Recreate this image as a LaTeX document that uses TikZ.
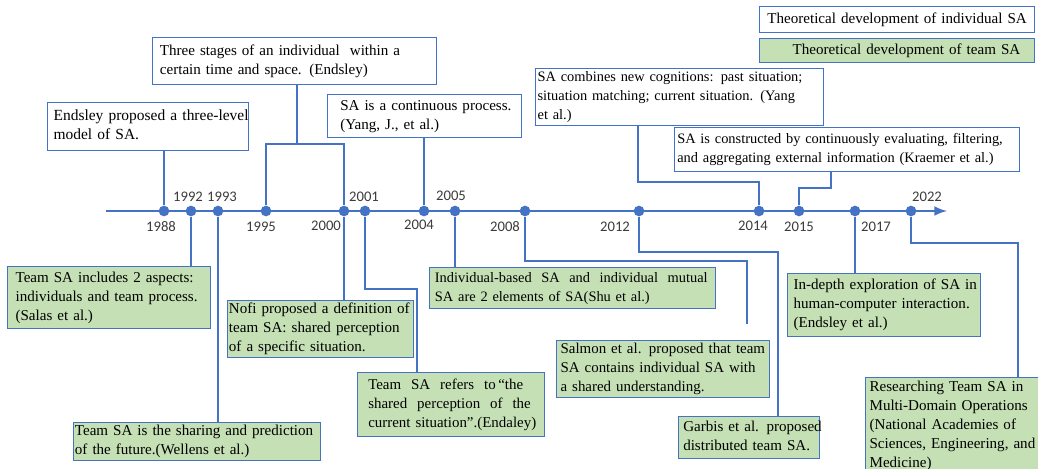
\documentclass[tikz,border=0pt]{standalone}
\usepackage{fontspec}
\setmainfont{Liberation Serif}
\newfontfamily\boxfont{Liberation Serif}
\newfontfamily\yrfont{Carlito}
\usepackage{tikz}
\usetikzlibrary{calc}
\definecolor{saline}{HTML}{4472C4}
\definecolor{teamgreen}{HTML}{C5E0B4}
\definecolor{yrgray}{HTML}{3B3B3B}
\newcommand{\fs}[1]{\boxfont\fontsize{#1}{14.2pt}\selectfont}
\newcommand{\ls}[1]{\begin{tabular}{@{}l@{}}#1\end{tabular}}

\begin{document}
\begin{tikzpicture}[x=0.75pt,y=-0.75pt,
    axis/.style={draw=saline,line width=2.2pt,-latex},
    conn/.style={draw=saline,line width=1.4pt},
    dot/.style={circle,fill=saline,inner sep=0pt,minimum size=8pt},
    yr/.style={font=\yrfont\fontsize{11pt}{13pt}\selectfont,text=yrgray,inner sep=0pt},
    box/.style={draw=saline,line width=0.9pt,anchor=north west,align=left,inner ysep=0pt,
      font=\fs{11.3pt}},
    indiv/.style={box,fill=white},
    team/.style={box,fill=teamgreen}]
    \useasboundingbox (0,0) rectangle (1038,468);
    \coordinate (tl0) at (106,211);
    \coordinate (tl1) at (947,211);
    \draw[axis] (tl0) -- (tl1);

    \node[dot] (d1988) at (164,211) {};
    \node[dot] (d1992) at (191,211) {};
    \node[dot] (d1993) at (218,211) {};
    \node[dot] (d1995) at (266,211) {};
    \node[dot] (d2000) at (344,211) {};
    \node[dot] (d2001) at (365,211) {};
    \node[dot] (d2004) at (424,211) {};
    \node[dot] (d2005) at (455,211) {};
    \node[dot] (d2008) at (525,211) {};
    \node[dot] (d2012) at (639,211) {};
    \node[dot] (d2014) at (759,211) {};
    \node[dot] (d2015) at (799,211) {};
    \node[dot] (d2017) at (855,211) {};
    \node[dot] (d2022) at (911,211) {};

    \node[yr] (y1988) at (161,227) {1988};
    \node[yr] (y1992) at (188,197) {1992};
    \node[yr] (y1993) at (222,197) {1993};
    \node[yr] (y1995) at (261,227) {1995};
    \node[yr] (y2000) at (326,226) {2000};
    \node[yr] (y2001) at (364,197) {2001};
    \node[yr] (y2004) at (419,225) {2004};
    \node[yr] (y2005) at (451,196) {2005};
    \node[yr] (y2008) at (505,227) {2008};
    \node[yr] (y2012) at (615,227) {2012};
    \node[yr] (y2014) at (753,226) {2014};
    \node[yr] (y2015) at (799,227) {2015};
    \node[yr] (y2017) at (876,227) {2017};
    \node[yr] (y2022) at (927,197) {2022};

    \node[indiv,font=\fs{11.6pt},inner xsep=4.5pt,text width=141.75pt,minimum height=36pt] (e1) at (47,102)
      {\ls{Endsley proposed a three-level\\model of SA.}};
    \node[indiv,inner xsep=5.5pt,text width=202pt,minimum height=35.25pt] (e2) at (152,37)
      {\ls{Three stages of an individual \ within a\\certain time and space. (Endsley)}};
    \node[indiv,inner xsep=9.5pt,text width=126.5pt,minimum height=32.25pt] (e3) at (327,94)
      {\ls{SA is a continuous process.\\(Yang, J., et al.)}};
    \node[indiv,font=\fs{10.8pt},inner xsep=1.5pt,text width=213pt,minimum height=40.5pt] (e4) at (535,68)
      {\ls{SA combines new cognitions: past situation;\\situation matching; current situation. (Yang\\et al.)}};
    \node[indiv,font=\fs{10.8pt},inner xsep=2pt,text width=254.75pt,minimum height=33pt] (e5) at (674,127)
      {\ls{SA is constructed by continuously evaluating, filtering,\\and aggregating external information (Kraemer et al.)}};
    \node[indiv,align=center,inner xsep=0pt,text width=206.25pt,minimum height=19.5pt] (l1) at (759,6)
      {Theoretical development of individual SA};
    \node[team,align=center,inner xsep=0pt,text width=206.25pt,minimum height=18pt] (l2) at (759,38)
      {\hspace*{14pt}Theoretical development of team SA};

    \node[team,inner xsep=6pt,text width=140.25pt,minimum height=46.5pt] (t1) at (7,266)
      {\ls{Team SA includes 2 aspects:\\individuals and team process.\\(Salas et al.)}};
    \node[team,inner xsep=1pt,text width=183.25pt,minimum height=27pt] (t2) at (73,422)
      {\ls{Team SA is the sharing and prediction\\of the future.(Wellens et al.)}};
    \node[team,inner xsep=1pt,text width=137.5pt,minimum height=40.5pt] (t3) at (227,300)
      {\ls{Nofi proposed a definition of\\team SA: shared perception\\of a specific situation.}};
    \node[team,font=\fs{11.2pt},inner xsep=8pt,text width=124.25pt,minimum height=48pt] (t4) at (357,372)
      {\ls{Team \ SA \ refers \ to\,“the\\shared \ perception \ of \ the\\current situation”.(Endaley)}};
    \node[team,font=\fs{10.8pt},inner xsep=4pt,text width=206.5pt,minimum height=30.75pt] (t5) at (429,267)
      {\ls{Individual-based \ SA \ and \ individual \ mutual\\SA are 2 elements of SA(Shu et al.)}};
    \node[team,font=\fs{11.2pt},inner xsep=3pt,text width=153.75pt,minimum height=42pt] (t6) at (556,340)
      {\ls{Salmon et al. proposed that team\\SA contains individual SA with\\a shared understanding.}};
    \node[team,inner xsep=3.5pt,text width=98.75pt,minimum height=31.5pt] (t7) at (678,416)
      {\ls{Garbis et al. proposed\\distributed team SA.}};
    \node[team,inner xsep=4.5pt,text width=135.75pt,minimum height=47.25pt] (t8) at (787,273)
      {\ls{In-depth exploration of SA in\\human-computer interaction.\\(Endsley et al.)}};
    \node[team,inner xsep=3pt,text width=129pt,minimum height=72pt] (t9) at (865,377)
      {\ls{Researching Team SA in\\Multi-Domain Operations\\(National Academies of\\Sciences, Engineering, and\\Medicine)}};

    \coordinate (f95) at (297,144);
    \coordinate (k14) at (638,182);
    \coordinate (k15) at (831,188);
    \coordinate (k01) at (417,289);
    \coordinate (k08) at (747,261);
    \coordinate (e08) at (747,324);
    \coordinate (k12) at (778,252);
    \coordinate (k22) at (1018,243);

    \draw[conn] (d1988) -- (d1988 |- e1.south);
    \draw[conn] (f95 |- e2.south) -- (f95);
    \draw[conn] (d1995) |- (f95) -| (d2000);
    \draw[conn] (d2004) -- (d2004 |- e3.south);
    \draw[conn] (d2014) |- (k14) -- (k14 |- e4.south);
    \draw[conn] (d2015) |- (k15) -- (k15 |- e5.south);

    \draw[conn] (d1992) -- (d1992 |- t1.north);
    \draw[conn] (d1993) -- (d1993 |- t2.north);
    \draw[conn] (d2000) -- (d2000 |- t3.north);
    \draw[conn] (d2001) |- (k01) -- (k01 |- t4.north);
    \draw[conn] (d2005) -- (d2005 |- t5.north);
    \draw[conn] (d2008) |- (k08) -- (e08);
    \draw[conn] (d2012) |- (k12) -- (k12 |- t7.north);
    \draw[conn] (d2017) -- (d2017 |- t8.north);
    \draw[conn] (d2022) |- (k22) -- (k22 |- t9.north);
\end{tikzpicture}
\end{document}
